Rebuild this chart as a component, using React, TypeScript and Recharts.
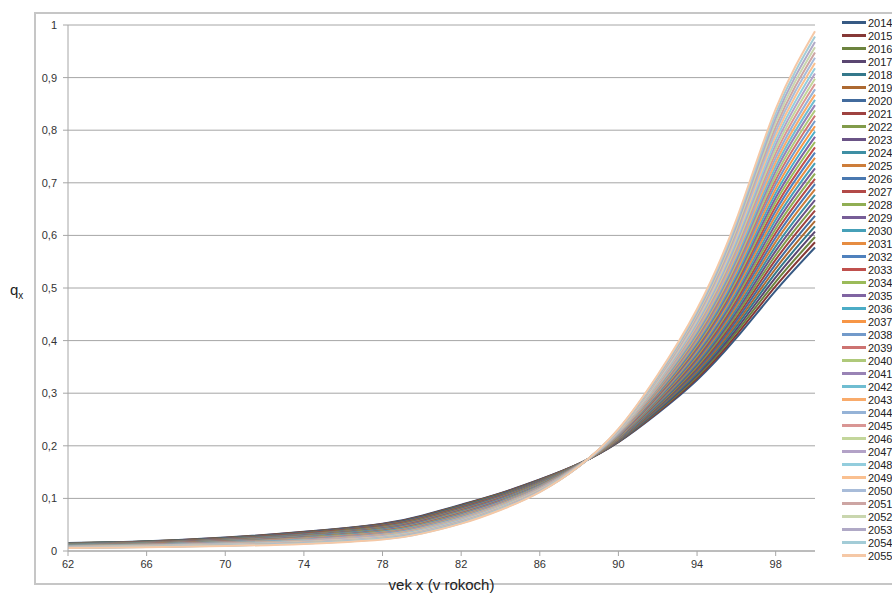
import React from "react"
import { LineChart, Line, XAxis, YAxis, CartesianGrid, Label } from "recharts"

// roky projekcie (legenda)
const years = [
  2014, 2015, 2016, 2017, 2018, 2019, 2020, 2021, 2022, 2023, 2024, 2025, 2026, 2027,
  2028, 2029, 2030, 2031, 2032, 2033, 2034, 2035, 2036, 2037, 2038, 2039, 2040, 2041,
  2042, 2043, 2044, 2045, 2046, 2047, 2048, 2049, 2050, 2051, 2052, 2053, 2054, 2055,
]

// vek x
const ages = [62, 66, 70, 74, 78, 80, 82, 84, 86, 88, 90, 92, 94, 96, 98, 100]

// q_x pre dany vek, hodnoty po rokoch 2014..2055
const q62 = [0.015, 0.0148, 0.0145, 0.0143, 0.0141, 0.0138, 0.0136, 0.0134, 0.0131, 0.0129, 0.0127, 0.0124, 0.0122, 0.012, 0.0118, 0.0115, 0.0113, 0.0111, 0.0108, 0.0106, 0.0104, 0.0101, 0.0099, 0.0097, 0.0094, 0.0092, 0.009, 0.0087, 0.0085, 0.0083, 0.008, 0.0078, 0.0076, 0.0073, 0.0071, 0.0069, 0.0067, 0.0064, 0.0062, 0.006, 0.0057, 0.0055]
const q66 = [0.0185, 0.0182, 0.0179, 0.0177, 0.0174, 0.0171, 0.0168, 0.0166, 0.0163, 0.016, 0.0157, 0.0155, 0.0152, 0.0149, 0.0146, 0.0144, 0.0141, 0.0138, 0.0135, 0.0133, 0.013, 0.0127, 0.0124, 0.0122, 0.0119, 0.0116, 0.0113, 0.0111, 0.0108, 0.0105, 0.0102, 0.01, 0.0097, 0.0094, 0.0091, 0.0089, 0.0086, 0.0083, 0.008, 0.0078, 0.0075, 0.0072]
const q70 = [0.0255, 0.0251, 0.0247, 0.0243, 0.0239, 0.0235, 0.0232, 0.0228, 0.0224, 0.022, 0.0216, 0.0212, 0.0208, 0.0204, 0.02, 0.0196, 0.0193, 0.0189, 0.0185, 0.0181, 0.0177, 0.0173, 0.0169, 0.0165, 0.0161, 0.0157, 0.0154, 0.015, 0.0146, 0.0142, 0.0138, 0.0134, 0.013, 0.0126, 0.0122, 0.0118, 0.0115, 0.0111, 0.0107, 0.0103, 0.0099, 0.0095]
const q74 = [0.0365, 0.0359, 0.0354, 0.0348, 0.0343, 0.0337, 0.0331, 0.0326, 0.032, 0.0315, 0.0309, 0.0303, 0.0298, 0.0292, 0.0286, 0.0281, 0.0275, 0.027, 0.0264, 0.0258, 0.0253, 0.0247, 0.0242, 0.0236, 0.023, 0.0225, 0.0219, 0.0214, 0.0208, 0.0202, 0.0197, 0.0191, 0.0185, 0.018, 0.0174, 0.0169, 0.0163, 0.0157, 0.0152, 0.0146, 0.0141, 0.0135]
const q78 = [0.052, 0.0513, 0.0505, 0.0498, 0.0491, 0.0483, 0.0476, 0.0469, 0.0461, 0.0454, 0.0447, 0.044, 0.0432, 0.0425, 0.0418, 0.041, 0.0403, 0.0396, 0.0388, 0.0381, 0.0374, 0.0366, 0.0359, 0.0352, 0.0344, 0.0337, 0.033, 0.0322, 0.0315, 0.0308, 0.03, 0.0293, 0.0286, 0.0279, 0.0271, 0.0264, 0.0257, 0.0249, 0.0242, 0.0235, 0.0227, 0.022]
const q80 = [0.067, 0.0662, 0.0653, 0.0645, 0.0637, 0.0629, 0.062, 0.0612, 0.0604, 0.0595, 0.0587, 0.0579, 0.057, 0.0562, 0.0554, 0.0546, 0.0537, 0.0529, 0.0521, 0.0512, 0.0504, 0.0496, 0.0488, 0.0479, 0.0471, 0.0463, 0.0454, 0.0446, 0.0438, 0.043, 0.0421, 0.0413, 0.0405, 0.0396, 0.0388, 0.038, 0.0371, 0.0363, 0.0355, 0.0347, 0.0338, 0.033]
const q82 = [0.088, 0.0871, 0.0862, 0.0854, 0.0845, 0.0836, 0.0827, 0.0819, 0.081, 0.0801, 0.0792, 0.0783, 0.0775, 0.0766, 0.0757, 0.0748, 0.074, 0.0731, 0.0722, 0.0713, 0.0704, 0.0696, 0.0687, 0.0678, 0.0669, 0.0661, 0.0652, 0.0643, 0.0634, 0.0625, 0.0617, 0.0608, 0.0599, 0.059, 0.0581, 0.0573, 0.0564, 0.0555, 0.0546, 0.0538, 0.0529, 0.052]
const q84 = [0.11, 0.1092, 0.1084, 0.1077, 0.1069, 0.1061, 0.1053, 0.1045, 0.1038, 0.103, 0.1022, 0.1014, 0.1006, 0.0999, 0.0991, 0.0983, 0.0975, 0.0967, 0.096, 0.0952, 0.0944, 0.0936, 0.0928, 0.092, 0.0913, 0.0905, 0.0897, 0.0889, 0.0881, 0.0874, 0.0866, 0.0858, 0.085, 0.0842, 0.0835, 0.0827, 0.0819, 0.0811, 0.0803, 0.0796, 0.0788, 0.078]
const q86 = [0.136, 0.1354, 0.1348, 0.1342, 0.1337, 0.1331, 0.1325, 0.1319, 0.1313, 0.1307, 0.1301, 0.1296, 0.129, 0.1284, 0.1278, 0.1272, 0.1266, 0.126, 0.1255, 0.1249, 0.1243, 0.1237, 0.1231, 0.1225, 0.122, 0.1214, 0.1208, 0.1202, 0.1196, 0.119, 0.1184, 0.1179, 0.1173, 0.1167, 0.1161, 0.1155, 0.1149, 0.1143, 0.1138, 0.1132, 0.1126, 0.112]
const q88 = [0.166, 0.1659, 0.1658, 0.1656, 0.1655, 0.1654, 0.1653, 0.1651, 0.165, 0.1649, 0.1648, 0.1647, 0.1645, 0.1644, 0.1643, 0.1642, 0.164, 0.1639, 0.1638, 0.1637, 0.1636, 0.1634, 0.1633, 0.1632, 0.1631, 0.163, 0.1628, 0.1627, 0.1626, 0.1625, 0.1623, 0.1622, 0.1621, 0.162, 0.1619, 0.1617, 0.1616, 0.1615, 0.1614, 0.1612, 0.1611, 0.161]
const q90 = [0.207, 0.2076, 0.2082, 0.2088, 0.2094, 0.21, 0.2107, 0.2113, 0.2119, 0.2125, 0.2131, 0.2137, 0.2143, 0.2149, 0.2155, 0.2161, 0.2168, 0.2174, 0.218, 0.2186, 0.2192, 0.2198, 0.2204, 0.221, 0.2216, 0.2222, 0.2229, 0.2235, 0.2241, 0.2247, 0.2253, 0.2259, 0.2265, 0.2271, 0.2277, 0.2283, 0.229, 0.2296, 0.2302, 0.2308, 0.2314, 0.232]
const q92 = [0.262, 0.2638, 0.2656, 0.2673, 0.2691, 0.2709, 0.2727, 0.2745, 0.2762, 0.278, 0.2798, 0.2816, 0.2834, 0.2851, 0.2869, 0.2887, 0.2905, 0.2923, 0.294, 0.2958, 0.2976, 0.2994, 0.3012, 0.303, 0.3047, 0.3065, 0.3083, 0.3101, 0.3119, 0.3136, 0.3154, 0.3172, 0.319, 0.3208, 0.3225, 0.3243, 0.3261, 0.3279, 0.3297, 0.3314, 0.3332, 0.335]
const q94 = [0.325, 0.3283, 0.3316, 0.3349, 0.3382, 0.3415, 0.3448, 0.348, 0.3513, 0.3546, 0.3579, 0.3612, 0.3645, 0.3678, 0.3711, 0.3744, 0.3777, 0.381, 0.3843, 0.3876, 0.3909, 0.3941, 0.3974, 0.4007, 0.404, 0.4073, 0.4106, 0.4139, 0.4172, 0.4205, 0.4238, 0.4271, 0.4304, 0.4337, 0.437, 0.4402, 0.4435, 0.4468, 0.4501, 0.4534, 0.4567, 0.46]
const q96 = [0.405, 0.4105, 0.416, 0.4215, 0.427, 0.4324, 0.4379, 0.4434, 0.4489, 0.4544, 0.4599, 0.4654, 0.4709, 0.4763, 0.4818, 0.4873, 0.4928, 0.4983, 0.5038, 0.5093, 0.5148, 0.5202, 0.5257, 0.5312, 0.5367, 0.5422, 0.5477, 0.5532, 0.5587, 0.5641, 0.5696, 0.5751, 0.5806, 0.5861, 0.5916, 0.5971, 0.6026, 0.608, 0.6135, 0.619, 0.6245, 0.63]
const q98 = [0.495, 0.5034, 0.5118, 0.5202, 0.5287, 0.5371, 0.5455, 0.5539, 0.5623, 0.5707, 0.5791, 0.5876, 0.596, 0.6044, 0.6128, 0.6212, 0.6296, 0.638, 0.6465, 0.6549, 0.6633, 0.6717, 0.6801, 0.6885, 0.697, 0.7054, 0.7138, 0.7222, 0.7306, 0.739, 0.7474, 0.7559, 0.7643, 0.7727, 0.7811, 0.7895, 0.7979, 0.8063, 0.8148, 0.8232, 0.8316, 0.84]
const q100 = [0.577, 0.587, 0.597, 0.6071, 0.6171, 0.6271, 0.6371, 0.6472, 0.6572, 0.6672, 0.6772, 0.6873, 0.6973, 0.7073, 0.7173, 0.7274, 0.7374, 0.7474, 0.7574, 0.7675, 0.7775, 0.7875, 0.7975, 0.8076, 0.8176, 0.8276, 0.8376, 0.8476, 0.8577, 0.8677, 0.8777, 0.8877, 0.8978, 0.9078, 0.9178, 0.9278, 0.9379, 0.9479, 0.9579, 0.9679, 0.978, 0.988]

const qByAge = [q62, q66, q70, q74, q78, q80, q82, q84, q86, q88, q90, q92, q94, q96, q98, q100]

const xTicks = [62, 66, 70, 74, 78, 82, 86, 90, 94, 98]
const yTicks = [0, 0.1, 0.2, 0.3, 0.4, 0.5, 0.6, 0.7, 0.8, 0.9, 1]

// excel 2007 paleta, od tmavych po svetle
const colors = [
  "#375A84", "#863836", "#6C833E", "#5A4671", "#34788B", "#AD6931",
  "#426B9D", "#9F4240", "#819B4A", "#6A5386", "#3E8FA4", "#CD7D3A",
  "#4978B0", "#B34A48", "#90AE53", "#775D97", "#46A0B8", "#E68C41",
  "#4F81BD", "#C0504D", "#9BBB59", "#8064A2", "#4BACC6", "#F79646",
  "#729ACA", "#CD7371", "#AFC97A", "#9983B5", "#6FBDD1", "#F9AB6B",
  "#95B3D7", "#D99694", "#C3D69B", "#B3A2C7", "#93CDDD", "#FAC090",
  "#A8BCD9", "#CDA5A3", "#C9D6AE", "#B0A9C6", "#A3CCD7", "#F5C8A6",
]

const data = ages.map((age, r) => {
  const row: any = { age }
  years.forEach((y, i) => {
    row["y" + y] = qByAge[r][i]
  })
  return row
})

const font = "'Liberation Sans', Arial, sans-serif"

const fmtY = (v: number) => (v === 0 ? "0" : v === 1 ? "1" : v.toFixed(1).replace(".", ","))

function QxLabel() {
  return (
    <text x={10} y={295} fontSize={15} fill="#222" fontFamily={font}>
      q<tspan fontSize={10} dy={4}>x</tspan>
    </text>
  )
}

export default function App() {
  return (
    <div style={{ position: "absolute", left: 0, top: 0, width: 892, height: 597, background: "#fff", overflow: "hidden" }}>
      <div
        style={{
          position: "absolute",
          left: 34,
          top: 12,
          width: 900,
          height: 569,
          border: "2px solid #c6c6c6",
        }}
      />
      <div style={{ position: "absolute", left: 0, top: 0 }}>
        <LineChart
          width={892}
          height={597}
          data={data}
          margin={{ top: 25, right: 77, bottom: 16, left: 28 }}
          style={{ fontFamily: font }}
        >
          <CartesianGrid horizontal vertical={false} stroke="#a6a6a6" />
          <XAxis
            dataKey="age"
            type="number"
            domain={[62, 100]}
            ticks={xTicks}
            height={30}
            tickSize={5}
            tickMargin={4}
            stroke="#a6a6a6"
            tick={{ fill: "#333", fontSize: 11 }}
          >
            <Label value="vek x (v rokoch)" position="bottom" offset={-2} fill="#222" fontSize={15} />
          </XAxis>
          <YAxis
            type="number"
            domain={[0, 1]}
            ticks={yTicks}
            width={40}
            tickSize={5}
            tickMargin={6}
            stroke="#a6a6a6"
            tickFormatter={fmtY}
            tick={{ fill: "#333", fontSize: 11 }}
          >
            <Label content={<QxLabel />} />
          </YAxis>
          {years.map((y, i) => (
            <Line
              key={y}
              dataKey={"y" + y}
              type="natural"
              stroke={colors[i]}
              strokeWidth={2}
              dot={false}
              isAnimationActive={false}
            />
          ))}
        </LineChart>
      </div>
      <div style={{ position: "absolute", left: 842, top: 16, fontFamily: font, fontSize: 11, color: "#222" }}>
        {years.map((y, i) => (
          <div key={y} style={{ display: "flex", alignItems: "center", height: 13 }}>
            <div style={{ width: 24, height: 3, background: colors[i], marginRight: 2 }} />
            <span>{y}</span>
          </div>
        ))}
      </div>
    </div>
  )
}
